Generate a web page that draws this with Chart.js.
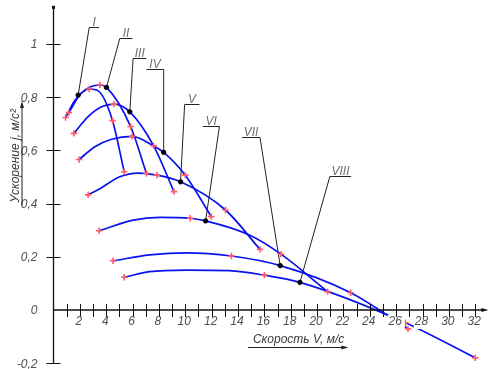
<!DOCTYPE html>
<html>
<head>
<meta charset="utf-8">
<script src="https://cdn.jsdelivr.net/npm/chart.js@4.4.1/dist/chart.umd.min.js"></script>
<style>
  html, body { margin: 0; padding: 0; background: #fff; }
  canvas { display: block; }
</style>
</head>
<body>
<canvas id="accelChart" width="494" height="369"></canvas>
<script>
// j(V) curves per gear
const gearNames = ['I', 'II', 'III', 'IV', 'V', 'VI', 'VII', 'VIII'];

const speedI = [0.92, 1.63, 2.71, 3.39, 4.48, 5.36];
const accelI = [0.724, 0.789, 0.831, 0.824, 0.712, 0.52];
const speedII = [1.17, 2.1, 3.52, 4.02, 5.85, 7.05];
const accelII = [0.742, 0.815, 0.846, 0.837, 0.69, 0.514];
const speedIII = [1.55, 2.63, 3.64, 4.58, 5.79, 7.6, 9.14];
const accelIII = [0.664, 0.727, 0.764, 0.774, 0.745, 0.617, 0.445];
const speedIV = [1.95, 3.14, 4.4, 5.96, 7.6, 8.36, 10.0, 11.97];
const accelIV = [0.566, 0.614, 0.642, 0.653, 0.617, 0.593, 0.507, 0.351];
const speedV = [2.63, 3.52, 5.03, 6.4, 7.85, 9.64, 13.05, 15.67];
const accelV = [0.433, 0.456, 0.501, 0.515, 0.507, 0.482, 0.376, 0.228];
const speedVI = [3.46, 6.04, 8.06, 10.38, 11.54, 14.86, 17.26, 20.8];
const accelVI = [0.298, 0.338, 0.348, 0.345, 0.335, 0.282, 0.21, 0.069];
const speedVII = [4.52, 7.3, 10.07, 13.5, 17.2, 22.55, 26.9];
const accelVII = [0.185, 0.207, 0.215, 0.203, 0.167, 0.065, -0.071];
const speedVIII = [5.36, 7.3, 10.07, 13.35, 16.0, 18.7, 26.7, 32.0];
const accelVIII = [0.123, 0.144, 0.15, 0.148, 0.131, 0.104, -0.048, -0.18];

// red crosses (computed points)
const markerSpeed = [0.92, 2.71, 4.48, 5.36, 1.17, 3.52, 5.85, 7.05, 1.55, 4.58, 7.6, 9.14,
  1.95, 5.96, 10.0, 11.97, 2.63, 7.85, 13.05, 15.67, 3.46, 10.38, 17.26, 20.8,
  4.52, 13.5, 22.55, 26.9, 5.36, 16.0, 26.7, 32.0];
const markerAccel = [0.724, 0.831, 0.712, 0.52, 0.742, 0.846, 0.69, 0.514, 0.664, 0.774, 0.617, 0.445,
  0.566, 0.653, 0.507, 0.351, 0.433, 0.507, 0.376, 0.228, 0.298, 0.345, 0.21, 0.069,
  0.185, 0.203, 0.065, -0.071, 0.123, 0.131, -0.048, -0.18];

// leader callouts: dot on the curve, shelf with the gear number
const leaderSpeed = [1.87, 4.02, 5.79, 8.36, 9.64, 11.54, 17.2, 18.7];
const leaderAccel = [0.808, 0.837, 0.745, 0.593, 0.482, 0.335, 0.167, 0.104];
const shelfFrom = [2.71, 5.03, 6.04, 7.05, 9.95, 11.33, 14.31, 20.97];
const shelfTo = [3.46, 5.99, 7.05, 8.36, 11.08, 12.59, 15.67, 22.58];
const shelfJoin = [2.71, 5.03, 6.04, 8.36, 9.95, 12.59, 15.67, 20.97];
const shelfAccel = [1.065, 1.021, 0.946, 0.906, 0.774, 0.692, 0.649, 0.504];

const xTickLabels = ['2', '4', '6', '8', '10', '12', '14', '16', '18', '20', '22', '24', '26', '28', '30', '32'];
const yTickValues = [1, 0.8, 0.6, 0.4, 0.2, 0, -0.2];
const yTickLabels = ['1', '0,8', '0,6', '0,4', '0,2', '0', '-0,2'];

const gearSpeeds = [speedI, speedII, speedIII, speedIV, speedV, speedVI, speedVII, speedVIII];
const gearAccels = [accelI, accelII, accelIII, accelIV, accelV, accelVI, accelVII, accelVIII];

const LABEL_FONT = 'italic 12px "Liberation Sans", "DejaVu Sans", sans-serif';
const LABEL_COLOR = '#505050';

function arrowHead(ctx, x, y, dir) {
  // dir: 'right' or 'up'
  ctx.beginPath();
  if (dir === 'right') {
    ctx.moveTo(x, y); ctx.lineTo(x - 7, y - 2); ctx.lineTo(x - 7, y + 2);
  } else {
    ctx.moveTo(x, y); ctx.lineTo(x - 2, y + 7); ctx.lineTo(x + 2, y + 7);
  }
  ctx.closePath();
  ctx.fill();
}

const drawingPlugin = {
  id: 'drawingAxes',
  beforeDatasetsDraw(chart) {
    const { ctx, scales: { x, y } } = chart;
    ctx.save();
    ctx.strokeStyle = '#222';
    ctx.lineWidth = 1;
    ctx.font = LABEL_FONT;
    ctx.fillStyle = '#6e6e6e';
    ctx.textAlign = 'center';
    ctx.textBaseline = 'alphabetic';
    gearNames.forEach((name, i) => {
      const sy = Math.round(y.getPixelForValue(shelfAccel[i])) + 0.5;
      const x0 = x.getPixelForValue(shelfFrom[i]);
      const x1 = x.getPixelForValue(shelfTo[i]);
      ctx.beginPath();
      ctx.moveTo(x0, sy);
      ctx.lineTo(x1, sy);
      ctx.moveTo(x.getPixelForValue(shelfJoin[i]), sy);
      ctx.lineTo(x.getPixelForValue(leaderSpeed[i]), y.getPixelForValue(leaderAccel[i]));
      ctx.stroke();
      ctx.fillText(name, (x0 + x1) / 2, sy - 2);
    });
    ctx.restore();
  },
  afterDatasetsDraw(chart) {
    const { ctx, chartArea, scales: { x, y } } = chart;
    const ox = x.getPixelForValue(0);
    const oy = y.getPixelForValue(0);
    ctx.save();
    ctx.font = LABEL_FONT;

    // white boxes behind speed labels (they hide the curves like in the drawing)
    ctx.fillStyle = '#fff';
    xTickLabels.forEach(t => {
      const px = x.getPixelForValue(Number(t));
      const w = ctx.measureText(t).width;
      ctx.fillRect(px - w / 2 - 2, oy + 5, w + 4, 14);
    });

    ctx.strokeStyle = '#111';
    ctx.fillStyle = '#111';
    ctx.lineWidth = 1.3;
    // y axis
    ctx.beginPath();
    ctx.moveTo(ox, y.getPixelForValue(-0.2));
    ctx.lineTo(ox, chartArea.top);
    ctx.stroke();
    ctx.fillRect(ox - 1.5, chartArea.top - 1, 3, 3);
    // x axis
    const xEnd = x.getPixelForValue(33);
    ctx.beginPath();
    ctx.moveTo(ox, oy);
    ctx.lineTo(xEnd - 4, oy);
    ctx.stroke();
    arrowHead(ctx, xEnd, oy, 'right');

    // ticks
    ctx.lineWidth = 1;
    ctx.beginPath();
    for (let v = 1; v <= 32; v++) {
      const px = Math.round(x.getPixelForValue(v)) + 0.5;
      ctx.moveTo(px, oy - 6);
      ctx.lineTo(px, oy + 7);
    }
    yTickValues.forEach(v => {
      if (v === 0) return;
      const py = Math.round(y.getPixelForValue(v)) + 0.5;
      ctx.moveTo(ox - 7, py);
      ctx.lineTo(ox + 7, py);
    });
    ctx.stroke();

    // tick labels
    ctx.fillStyle = LABEL_COLOR;
    ctx.textBaseline = 'middle';
    ctx.textAlign = 'center';
    xTickLabels.forEach(t => {
      ctx.fillText(t, x.getPixelForValue(Number(t)) - 1, oy + 12);
    });
    ctx.textAlign = 'right';
    yTickValues.forEach((v, i) => {
      ctx.fillText(yTickLabels[i], ox - 16, y.getPixelForValue(v) + 1);
    });

    // axis titles with arrow underlines
    ctx.fillStyle = '#3a3a3a';
    ctx.strokeStyle = '#222';
    ctx.textAlign = 'center';
    ctx.textBaseline = 'alphabetic';
    const xTitle = 'Скорость V, м/с';
    const xtw = ctx.measureText(xTitle).width;
    const xtc = x.getPixelForValue(18.6);
    ctx.fillText(xTitle, xtc, oy + 33);
    ctx.beginPath();
    ctx.moveTo(xtc - xtw / 2 - 5, oy + 37.5);
    ctx.lineTo(xtc + xtw / 2, oy + 37.5);
    ctx.stroke();
    ctx.fillStyle = '#222';
    arrowHead(ctx, xtc + xtw / 2 + 4, oy + 37.5, 'right');

    const yTitle = 'Ускорение j, м/с²';
    const ytw = ctx.measureText(yTitle).width;
    const ytc = y.getPixelForValue(0.58);
    ctx.save();
    ctx.translate(ox - 35, ytc);
    ctx.rotate(-Math.PI / 2);
    ctx.fillStyle = '#3a3a3a';
    ctx.fillText(yTitle, 0, 0);
    ctx.restore();
    const lx = ox - 31.5;
    ctx.beginPath();
    ctx.moveTo(lx, ytc + ytw / 2 + 3);
    ctx.lineTo(lx, ytc - ytw / 2 - 2);
    ctx.stroke();
    arrowHead(ctx, lx, ytc - ytw / 2 - 8, 'up');

    ctx.restore();
  }
};

const gearDatasets = gearNames.map((name, i) => ({
  label: name,
  data: gearSpeeds[i].map((v, k) => ({ x: v, y: gearAccels[i][k] })),
  borderColor: '#0a12ee',
  borderWidth: 1.7,
  pointRadius: 0,
  cubicInterpolationMode: 'monotone',
  fill: false,
  order: 3
}));

const markerDataset = {
  label: 'points',
  data: markerSpeed.map((v, i) => ({ x: v, y: markerAccel[i] })),
  showLine: false,
  pointStyle: 'cross',
  pointRadius: 3.2,
  borderColor: '#ff5a6a',
  pointBorderWidth: 1.6,
  order: 2
};

const leaderDataset = {
  label: 'leaders',
  data: leaderSpeed.map((v, i) => ({ x: v, y: leaderAccel[i] })),
  showLine: false,
  pointStyle: 'circle',
  pointRadius: 2.2,
  backgroundColor: '#000',
  borderColor: '#000',
  order: 1
};

new Chart(document.getElementById('accelChart'), {
  type: 'line',
  data: { datasets: [...gearDatasets, markerDataset, leaderDataset] },
  options: {
    responsive: false,
    animation: false,
    devicePixelRatio: 1,
    layout: { padding: { left: 53.5, right: 4.2, top: 6.8, bottom: 5.8 } },
    plugins: { legend: { display: false }, tooltip: { enabled: false } },
    scales: {
      x: { type: 'linear', min: 0, max: 33, display: false },
      y: { type: 'linear', min: -0.2, max: 1.14, display: false }
    }
  },
  plugins: [drawingPlugin]
});
</script>
</body>
</html>
